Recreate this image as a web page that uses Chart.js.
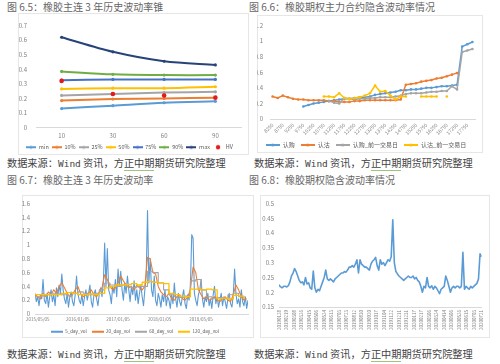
<!DOCTYPE html>
<html>
<head>
<meta charset="utf-8">
<script src="https://cdn.jsdelivr.net/npm/chart.js@4"></script>
<style>
body{margin:0;width:500px;height:364px;background:#fff;overflow:hidden;position:relative;font-family:"Noto Sans CJK SC",sans-serif}
.cap{position:absolute;font-size:10px;color:#666;white-space:nowrap;line-height:14px}
.src{position:absolute;font-size:10.2px;color:#444;white-space:nowrap;line-height:14px}
.src b{font-weight:normal;font-family:"DejaVu Sans Mono",monospace;font-size:9.5px}
.src u{text-decoration:none;border-bottom:1px solid #9cc47c}
.box{position:absolute;border:1px solid #e6e6e6;box-sizing:border-box}
canvas{position:absolute}
</style>
</head>
<body>
<div class="cap" style="left:7px;top:0px">图 6.5：橡胶主连 3 年历史波动率锥</div>
<div class="cap" style="left:249px;top:0px">图 6.6：橡胶期权主力合约隐含波动率情况</div>
<div class="src" style="left:7px;top:156px">数据来源：<b>Wind</b> 资讯，方<u>正中期</u>期货研究院整理</div>
<div class="src" style="left:254px;top:156px">数据来源：<b>Wind</b> 资讯，方<u>正中期</u>期货研究院整理</div>
<div class="cap" style="left:7px;top:173px">图 6.7：橡胶主连 3 年历史波动率</div>
<div class="cap" style="left:249px;top:173px">图 6.8：橡胶期权隐含波动率情况</div>
<div class="src" style="left:7px;top:347px">数据来源：<b>Wind</b> 资讯，方<u>正中期</u>期货研究院整理</div>
<div class="src" style="left:254px;top:347px">数据来源：<b>Wind</b> 资讯，方<u>正中期</u>期货研究院整理</div>

<div class="box" style="left:18px;top:13px;width:231px;height:142px"></div>
<div class="box" style="left:257px;top:15px;width:226px;height:138px"></div>
<div class="box" style="left:22px;top:195px;width:232px;height:143px"></div>
<div class="box" style="left:260px;top:195px;width:230px;height:143px"></div>

<canvas id="cone" width="231" height="147" style="left:18px;top:13px"></canvas>
<canvas id="smile" width="226" height="143" style="left:257px;top:15px"></canvas>
<canvas id="hist" width="230" height="149" style="left:22px;top:195px"></canvas>
<canvas id="iv" width="230" height="143" style="left:260px;top:195px"></canvas>

<script>
// ---- 图 6.5 波动率锥 ----
const coneTenors = ['10', '30', '60', '90'];
const coneMin = [0.13, 0.15, 0.17, 0.18];
const cone10 = [0.185, 0.195, 0.20, 0.205];
const cone25 = [0.22, 0.23, 0.24, 0.245];
const cone50 = [0.265, 0.27, 0.27, 0.28];
const cone75 = [0.325, 0.33, 0.33, 0.33];
const cone90 = [0.385, 0.365, 0.36, 0.36];
const coneMax = [0.62, 0.52, 0.455, 0.43];
const coneHV = [0.32, 0.23, 0.22, 0.205];

// ---- 图 6.6 主力合约隐含波动率 (按行权价) ----
const strikes = [8250, 8500, 8750, 9000, 9250, 9500, 9750, 10000, 10250, 10500,
  10750, 11000, 11250, 11500, 11750, 12000, 12250, 12500, 12750, 13000,
  13250, 13500, 13750, 14000, 14250, 14500, 14750, 15000, 15250, 15500,
  15750, 16000, 16250, 16500, 16750, 17000, 17250, 17500, 17750, 18000];
const callIV = [null, null, null, null, null, null, 0.16, 0.18, 0.20, 0.21,
  0.22, 0.23, 0.24, 0.25, 0.26, 0.26, 0.27, 0.28, 0.28, 0.29,
  0.31, 0.32, 0.33, 0.34, 0.35, 0.37, 0.37, 0.38, 0.38, 0.39,
  0.40, 0.40, 0.41, 0.42, 0.42, 0.43, 0.44, 0.93, 0.96, 0.99];
const putIV = [0.29, 0.27, 0.30, 0.28, 0.26, 0.25, 0.25, 0.24, 0.24, 0.24,
  0.24, 0.23, 0.23, 0.22, 0.22, 0.22, 0.23, 0.23, 0.24, 0.24,
  0.24, 0.24, 0.24, 0.24, 0.24, 0.25, 0.44, 0.45, 0.46, 0.48,
  0.49, 0.50, 0.52, 0.53, 0.55, 0.57, 0.59, null, null, null];
const callPrevIV = [null, null, null, null, null, null, null, null, null, null,
  null, 0.23, 0.21, 0.20, 0.27, 0.26, 0.25, 0.26, 0.26, 0.27,
  0.27, 0.28, 0.28, 0.28, 0.29, 0.30, 0.32, 0.33, 0.33, 0.33,
  0.34, 0.35, 0.35, 0.36, 0.36, 0.42, 0.38, 0.86, 0.88, 0.90];
const putPrevIV = [null, null, null, null, null, null, null, null, null, null,
  0.29, 0.29, 0.28, 0.33, 0.27, 0.26, 0.27, 0.28, 0.30, 0.33,
  0.43, 0.35, 0.36, 0.30, 0.25, 0.29, 0.29, null, null, 0.29,
  0.29, 0.29, 0.29, null, 0.29, null, null, null, null, null];

// ---- 图 6.7 历史波动率 (抽样) ----
const histDates = ['2015/05/05', '2016/01/05', '2017/01/05', '2018/01/05', '2018/05/05'];
const histTickIdx = [2, 32, 62, 93, 124];
const vol5 = [0.30, 0.18, 0.25, 0.12, 0.28, 0.22, 0.50, 0.20, 0.15, 0.30, 0.10, 0.25, 0.35, 0.18, 0.28, 0.12, 0.38, 0.25, 0.42, 0.30,
  0.58, 0.35, 0.22, 0.15, 0.30, 0.10, 0.25, 0.32, 0.18, 0.12, 0.28, 0.55, 0.30, 0.20, 0.15, 0.28, 0.12, 0.25, 0.35, 0.20,
  0.30, 0.42, 0.18, 0.10, 0.28, 0.35, 0.22, 0.12, 0.30, 0.38, 0.25, 0.45, 1.03, 0.40, 0.95, 0.35, 0.28, 0.15, 0.40, 0.30,
  0.50, 0.25, 0.65, 0.40, 0.62, 0.35, 0.20, 0.45, 0.30, 0.55, 0.35, 0.18, 0.40, 0.28, 0.48, 0.20, 0.35, 0.15, 0.30, 0.42,
  0.25, 0.12, 0.35, 0.55, 1.50, 0.45, 0.80, 0.35, 0.25, 0.55, 0.20, 0.12, 0.30, 0.22, 0.10, 0.28, 0.18, 0.35, 0.12, 0.25,
  0.20, 0.08, 0.28, 0.15, 0.45, 0.22, 0.10, 0.30, 0.18, 0.12, 0.25, 0.35, 0.15, 0.08, 0.28, 0.20, 0.40, 1.15, 1.10, 0.30,
  0.20, 0.12, 0.28, 0.35, 0.50, 0.22, 0.10, 0.25, 0.18, 0.30, 0.12, 0.22, 0.08, 0.28, 0.40, 0.15, 0.25, 0.10, 0.20, 0.30,
  0.12, 0.25, 0.18, 0.08, 0.22, 0.30, 0.15, 0.10, 0.28, 0.65, 0.30, 0.15, 0.22, 0.10, 0.35, 0.18, 0.12, 0.25, 0.08, 0.20];
const vol20 = [0.28, 0.25, 0.22, 0.30, 0.25, 0.32, 0.28, 0.35, 0.30, 0.40, 0.45, 0.38, 0.30, 0.25, 0.28, 0.35, 0.40, 0.30, 0.25, 0.28,
  0.30, 0.35, 0.28, 0.25, 0.32, 0.38, 0.57, 0.50, 0.40, 0.35, 0.38, 0.45, 0.55, 0.48, 0.42, 0.38, 0.40, 0.35, 0.42, 0.38,
  0.35, 0.40, 0.82, 0.80, 0.60, 0.58, 0.40, 0.32, 0.28, 0.25, 0.30, 0.22, 0.20, 0.25, 0.28, 0.22, 0.20, 0.25, 0.35, 0.68,
  0.60, 0.35, 0.28, 0.22, 0.25, 0.20, 0.22, 0.25, 0.20, 0.18, 0.22, 0.25, 0.20, 0.18, 0.28, 0.42, 0.35, 0.25, 0.20, 0.22];
const vol60 = [0.25, 0.26, 0.28, 0.30, 0.30, 0.28, 0.26, 0.30, 0.32, 0.30, 0.28, 0.30, 0.35, 0.45, 0.42, 0.40, 0.42, 0.40, 0.38, 0.40,
  0.40, 0.62, 0.60, 0.45, 0.35, 0.28, 0.25, 0.24, 0.26, 0.48, 0.50, 0.35, 0.25, 0.22, 0.24, 0.22, 0.28, 0.30, 0.25, 0.22];
const vol120 = [0.28, 0.28, 0.28, 0.28, 0.28, 0.30, 0.31, 0.30, 0.28, 0.28, 0.29, 0.28, 0.30, 0.38, 0.40, 0.42, 0.42, 0.43, 0.44, 0.42,
  0.46, 0.47, 0.46, 0.45, 0.44, 0.30, 0.28, 0.26, 0.25, 0.36, 0.36, 0.35, 0.36, 0.35, 0.22, 0.23, 0.22, 0.27, 0.26, 0.22];

// ---- 图 6.8 期权隐含波动率 ----
const ivDates = ['20190128', '20190219', '20190308', '20190326', '20190415', '20190506', '20190524',
  '20190613', '20190703', '20190723', '20190812', '20190830', '20190920', '20191017',
  '20191104', '20191122', '20191211', '20191231', '20200117', '20200217', '20200306',
  '20200324', '20200414', '20200506', '20200526', '20200615', '20200703', '20200721'];
const impliedVol = [0.225, 0.218, 0.215, 0.22, 0.22, 0.218, 0.222, 0.235, 0.255, 0.265,
  0.28, 0.27, 0.255, 0.24, 0.232, 0.235, 0.225, 0.25, 0.228, 0.232,
  0.215, 0.21, 0.272, 0.215, 0.20, 0.21, 0.205, 0.22, 0.235, 0.25,
  0.275, 0.245, 0.24, 0.245, 0.24, 0.235, 0.245, 0.25, 0.255, 0.26,
  0.265, 0.265, 0.27, 0.268, 0.275, 0.285, 0.285, 0.29, 0.285, 0.295,
  0.31, 0.265, 0.31, 0.295, 0.29, 0.285, 0.285, 0.28, 0.275, 0.295,
  0.305, 0.31, 0.318, 0.29, 0.275, 0.31, 0.295, 0.30, 0.29, 0.30,
  0.31, 0.305, 0.32, 0.445, 0.30, 0.27, 0.262, 0.255, 0.25, 0.245,
  0.24, 0.245, 0.25, 0.255, 0.25, 0.25, 0.255, 0.245, 0.25, 0.24,
  0.235, 0.22, 0.20, 0.22, 0.215, 0.25, 0.22, 0.215, 0.222, 0.21,
  0.22, 0.215, 0.205, 0.195, 0.21, 0.215, 0.22, 0.255, 0.24, 0.22,
  0.20, 0.215, 0.22, 0.215, 0.22, 0.22, 0.215, 0.22, 0.335, 0.21,
  0.22, 0.215, 0.21, 0.22, 0.215, 0.22, 0.225, 0.23, 0.245, 0.33, 0.32];

const BLUE = '#5B9BD5', ORANGE = '#ED7D31', GRAY = '#A5A5A5', GOLD = '#FFC000',
  MID = '#4472C4', GREEN = '#70AD47', NAVY = '#264478', RED = '#E31A1C';

Chart.defaults.font.family = '"Noto Sans CJK SC", "Noto Sans", sans-serif';
Chart.defaults.font.size = 6;
Chart.defaults.color = '#7f7f7f';

// legend icon: short line with optional marker, Excel style
function icon(color, w, line, dot) {
  const c = document.createElement('canvas');
  c.width = w; c.height = 6;
  const g = c.getContext('2d');
  if (line) { g.strokeStyle = color; g.lineWidth = 2; g.beginPath(); g.moveTo(0, 3); g.lineTo(w, 3); g.stroke(); }
  if (dot) { g.fillStyle = color; g.beginPath(); g.arc(w / 2, 3, dot, 0, Math.PI * 2); g.fill(); }
  return c;
}

function legendOpts(w, pad, size, markers) {
  return {
    position: 'bottom',
    labels: {
      usePointStyle: true, pointStyleWidth: w, boxHeight: 5, padding: pad,
      font: { size: size }, color: '#595959',
      sort: (a, b) => a.datasetIndex - b.datasetIndex,
      generateLabels: chart => chart.data.datasets.map((ds, i) => ({
        text: ds.label, datasetIndex: i, fontColor: '#595959', lineWidth: 0,
        strokeStyle: ds.borderColor, fillStyle: ds.borderColor,
        pointStyle: icon(ds.borderColor, w, ds.showLine !== false, markers ? (ds.showLine === false ? 2.2 : 1.6) : 0)
      }))
    }
  };
}

function yAxis(min, max, step, w, pad) {
  return {
    min: min, max: max,
    ticks: { stepSize: step, padding: pad, callback: v => +v.toFixed(2) },
    grid: { display: false, drawTicks: false },
    border: { display: false },
    afterFit: s => { s.width = w; }
  };
}

function base(scales, legend, padding) {
  return {
    responsive: false, devicePixelRatio: 1, animation: false,
    layout: { padding: padding },
    plugins: { legend: legend, tooltip: { enabled: false } },
    elements: { line: { borderJoinStyle: 'round' } },
    scales: scales
  };
}

function line(label, data, color, order, extra) {
  return Object.assign({
    label: label, data: data, borderColor: color, backgroundColor: color,
    borderWidth: 2, pointRadius: 1.6, pointBorderWidth: 0, pointBackgroundColor: color,
    order: order, spanGaps: false
  }, extra || {});
}

// 图 6.5
new Chart(document.getElementById('cone'), {
  type: 'line',
  data: {
    labels: coneTenors,
    datasets: [
      line('min', coneMin, BLUE, 8, { tension: 0.3 }),
      line('10%', cone10, ORANGE, 7, { tension: 0.3 }),
      line('25%', cone25, GRAY, 6, { tension: 0.3 }),
      line('50%', cone50, GOLD, 5, { tension: 0.3 }),
      line('75%', cone75, MID, 4, { tension: 0.3 }),
      line('90%', cone90, GREEN, 3, { tension: 0.3 }),
      line('max', coneMax, NAVY, 2, { tension: 0.3 }),
      line('HV', coneHV, RED, 1, { showLine: false, pointRadius: 2.3 })
    ]
  },
  options: base({
    x: {
      type: 'category', offset: true,
      ticks: { padding: 5, color: '#7f7f7f' },
      grid: { display: false, drawTicks: false },
      border: { display: true, color: '#d9d9d9', width: 1 },
      afterFit: s => { s.height = 14; }
    },
    y: yAxis(0, 0.7, 0.1, 18, 9)
  }, legendOpts(10, 3, 5.5, true), { left: 0, right: 8, top: 9, bottom: 0 })
});

// 图 6.6
new Chart(document.getElementById('smile'), {
  type: 'line',
  data: {
    labels: strikes,
    datasets: [
      line('认购', callIV, BLUE, 4, { borderWidth: 1.5, pointRadius: 1.3 }),
      line('认沽', putIV, ORANGE, 3, { borderWidth: 1.5, pointRadius: 1.3 }),
      line('认购_前一交易日', callPrevIV, GRAY, 2, { borderWidth: 1.5, pointRadius: 1.3 }),
      line('认沽_前一交易日', putPrevIV, GOLD, 1, { borderWidth: 1.5, pointRadius: 1.3 })
    ]
  },
  options: base({
    x: {
      type: 'category', offset: true,
      ticks: { autoSkip: false, minRotation: 45, maxRotation: 45, padding: 3, font: { size: 5 },
        callback: (v, i) => (i % 2 === 0 ? strikes[i] : '') },
      grid: { display: false, drawTicks: false },
      border: { display: true, color: '#d9d9d9', width: 1 },
      afterFit: s => { s.height = 17; }
    },
    y: yAxis(0, 1.2, 0.2, 13, 7)
  }, legendOpts(14, 6, 6, true), { left: 0, right: 8, top: 7, bottom: 0 })
});

// 图 6.7
new Chart(document.getElementById('hist'), {
  type: 'line',
  data: {
    datasets: [
      line('5_day_vol', vol5.map((v, i) => ({ x: i, y: v })), BLUE, 4, { borderWidth: 1.1, pointRadius: 0 }),
      line('20_day_vol', vol20.map((v, i) => ({ x: i * 2, y: v })), ORANGE, 3, { borderWidth: 1.1, pointRadius: 0 }),
      line('60_day_vol', vol60.map((v, i) => ({ x: i * 4, y: v })), GRAY, 2, { borderWidth: 1.1, pointRadius: 0, stepped: true }),
      line('120_day_vol', vol120.map((v, i) => ({ x: i * 4, y: v })), GOLD, 1, { borderWidth: 1.3, pointRadius: 0, stepped: true })
    ]
  },
  options: base({
    x: {
      type: 'linear', min: 0, max: 159,
      afterBuildTicks: s => { s.ticks = histTickIdx.map(v => ({ value: v })); },
      ticks: { padding: 3, font: { size: 4.5 }, callback: (v, i) => histDates[i] },
      grid: { display: false, drawTicks: false },
      border: { display: true, color: '#d9d9d9', width: 1 },
      afterFit: s => { s.height = 10.5; }
    },
    y: yAxis(0, 1.6, 0.2, 13, 5)
  }, legendOpts(12, 5, 4.5, false), { left: 0, right: 4, top: 7, bottom: 0 })
});

// 图 6.8
new Chart(document.getElementById('iv'), {
  type: 'line',
  data: {
    datasets: [
      line('隐含波动率', impliedVol.map((v, i) => ({ x: i, y: v })), BLUE, 1, { borderWidth: 1.6, pointRadius: 0 })
    ]
  },
  options: base({
    x: {
      type: 'linear', min: 0, max: impliedVol.length - 1,
      afterBuildTicks: s => { s.ticks = ivDates.map((d, i) => ({ value: i * (impliedVol.length - 1) / (ivDates.length - 1) })); },
      ticks: { autoSkip: false, minRotation: 90, maxRotation: 90, padding: 3, font: { size: 4.5 }, callback: (v, i) => ivDates[i] },
      grid: { display: false, drawTicks: false },
      border: { display: true, color: '#d9d9d9', width: 1, dash: [1, 1] },
      afterFit: s => { s.height = 28; }
    },
    y: yAxis(0.15, 0.5, 0.05, 19, 5)
  }, { display: false }, { left: 0, right: 8, top: 7, bottom: 3 })
});
</script>
</body>
</html>
